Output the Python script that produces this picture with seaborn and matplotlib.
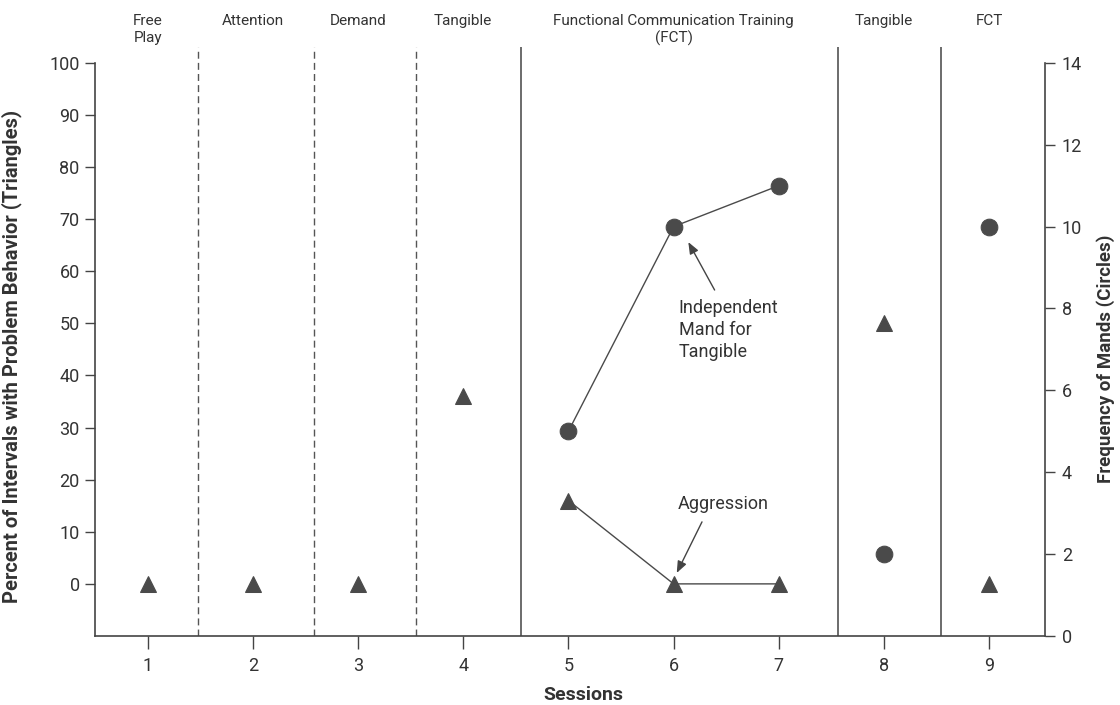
import numpy as np
import pandas as pd
import matplotlib
matplotlib.use("Agg")
import matplotlib.pyplot as plt
import seaborn as sns
from matplotlib.transforms import blended_transform_factory

# ---- data ----
sessions = [1, 2, 3, 4, 5, 6, 7, 8, 9]
percent_problem = [0, 0, 0, 36, 16, 0, 0, 50, 0]          # triangles (left axis)
mands = [np.nan, np.nan, np.nan, np.nan, 5, 10, 11, 2, 10]  # circles (right axis)
phase_id = [1, 2, 3, 4, 5, 5, 5, 6, 7]
phase_names = ["Free\nPlay", "Attention", "Demand", "Tangible",
               "Functional Communication Training\n(FCT)", "Tangible", "FCT"]
phase_label_x = [1, 2, 3, 4, 6, 8, 9]
dashed_boundaries = [1.48, 2.58, 3.55]
solid_boundaries = [4.55, 7.56, 8.54]
left_ticks = list(range(0, 101, 10))
right_ticks = list(range(0, 15, 2))

sns.set_style("ticks")
plt.rcParams["font.family"] = ["Roboto", "DejaVu Sans"]

ink = "#333333"
mark = "#4a4a4a"

df = pd.DataFrame({"session": sessions, "percent": percent_problem,
                   "mands": mands, "phase": phase_id})

fig = plt.figure(figsize=(11.2, 7.05), dpi=100)
ax = fig.add_axes([0.0848, 0.0979, 0.933 - 0.0848, 0.933 - 0.0979])
ax2 = ax.twinx()

# phase change lines
for xb in dashed_boundaries:
    ax.axvline(xb, color="#555555", lw=1.0, ls=(0, (5, 3)), zorder=1)
for xb in solid_boundaries:
    ax.axvline(xb, color="#444444", lw=1.1, zorder=1)

sns.lineplot(data=df, x="session", y="percent", units="phase", estimator=None,
             marker="^", markersize=12, color=mark, markeredgecolor=mark,
             linewidth=1.0, ax=ax, legend=False, zorder=3)
sns.lineplot(data=df.dropna(subset=["mands"]), x="session", y="mands",
             units="phase", estimator=None, marker="o", markersize=12,
             color=mark, markeredgecolor=mark, linewidth=1.0, ax=ax2,
             legend=False, zorder=3)

# axes limits / spines
ax.set_xlim(0.5, 9.53)
ax.set_ylim(-10, 103)
ax2.set_ylim(0, 113 * 14 / 110)
ax.set_xticks(sessions)
ax.set_yticks(left_ticks)
ax2.set_yticks(right_ticks)

for a in (ax, ax2):
    a.spines["top"].set_visible(False)
ax.spines["right"].set_visible(False)
ax2.spines["left"].set_visible(False)
ax2.spines["bottom"].set_visible(False)
ax.spines["left"].set_bounds(-10, 100)
ax2.spines["right"].set_bounds(0, 14)
for s in (ax.spines["left"], ax.spines["bottom"], ax2.spines["right"]):
    s.set_color("#444444")
    s.set_linewidth(1.2)

ax.tick_params(axis="y", length=7, width=1, colors="#444444", labelcolor=ink,
               labelsize=13, pad=4)
ax.tick_params(axis="x", length=9, width=1, colors="#444444", labelcolor=ink,
               labelsize=13, pad=6)
ax2.tick_params(axis="y", length=7, width=1, colors="#444444", labelcolor=ink,
                labelsize=13, pad=5)

ax.set_ylabel("Percent of Intervals with Problem Behavior (Triangles)",
              fontsize=14.5, fontweight="bold", color=ink)
ax.yaxis.set_label_coords(-0.077, 0.474)
ax2.set_ylabel("Frequency of Mands (Circles)", fontsize=13.5,
               fontweight="bold", color=ink, rotation=90)
ax2.yaxis.set_label_coords(1.054, 0.47)
ax.set_xlabel("Sessions", fontsize=14, fontweight="bold", color=ink)
ax.xaxis.set_label_coords(0.514, -0.085)

# phase labels
trans = blended_transform_factory(ax.transData, fig.transFigure)
for name, xp in zip(phase_names, phase_label_x):
    ax.text(xp, 0.980, name, transform=trans, ha="center", va="top",
            fontsize=11, color=ink, linespacing=1.25, clip_on=False)

# annotations
ax.annotate("", xy=(6.14, 65.6), xytext=(6.39, 56.4),
            arrowprops=dict(arrowstyle="-|>,head_length=0.5,head_width=0.2",
                            color="#444444", lw=1.0,
                            mutation_scale=14, shrinkA=0, shrinkB=0))
ax.text(6.05, 48.7, "Independent\nMand for\nTangible", ha="left", va="center",
        fontsize=13, color=ink, linespacing=1.3)
ax.annotate("", xy=(6.03, 2.1), xytext=(6.27, 11.9),
            arrowprops=dict(arrowstyle="-|>,head_length=0.5,head_width=0.2",
                            color="#444444", lw=1.0,
                            mutation_scale=14, shrinkA=0, shrinkB=0))
ax.text(6.47, 15.3, "Aggression", ha="center", va="center",
        fontsize=13, color=ink)

ax.set_zorder(ax2.get_zorder() + 1)
ax.patch.set_visible(False)

fig.savefig("out.png", dpi=100)
